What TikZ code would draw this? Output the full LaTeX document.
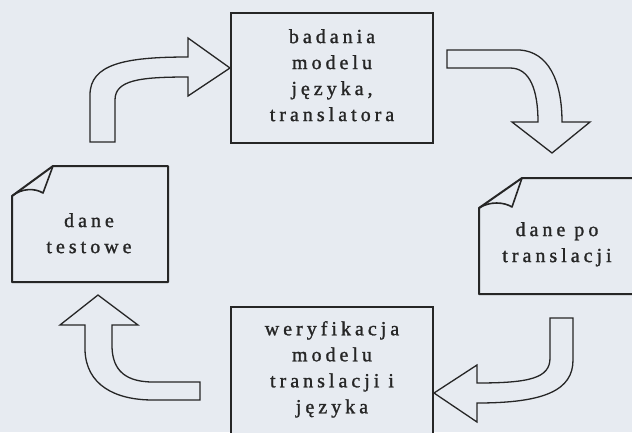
\documentclass[tikz,border=0pt]{standalone}
\usepackage{fontspec}
\setmainfont[LetterSpace=20, FakeBold=1.3]{Liberation Serif}
\definecolor{paper}{HTML}{E7EBF1}
\definecolor{ink}{HTML}{262626}
\tikzset{
  boxframe/.style={draw=ink, fill=paper, line width=2pt, inner sep=0pt},
  docframe/.style={draw=ink, fill=paper, line width=2pt, line join=round},
  flap/.style={draw=ink, line width=1.6pt, line join=round},
  blockarrow/.style={draw=ink, fill=paper, line width=1.3pt, line join=miter},
  caption/.style={text=ink, align=center, inner sep=0pt, anchor=north,
    font=\fontsize{20}{26}\selectfont}
}
\begin{document}
\begin{tikzpicture}[x=1pt, y=-1pt]
  \fill[paper] (0,0) rectangle (632,432);
  \useasboundingbox (0,0) rectangle (632,432);
  \clip (0,0) rectangle (632,432);

  % process boxes
  \node[boxframe, minimum width=202pt, minimum height=130pt] (badania) at (332,78) {};
  \node[boxframe, minimum width=202pt, minimum height=150pt] (weryf) at (332,382) {};

  % document shapes with folded corners
  \draw[docframe] (53,166) -- (168,166) -- (168,282) -- (12,282) -- (12,196) -- cycle;
  \draw[flap] (53,166) -- (43,193) .. controls (35,188) and (22,188) .. (12,196);
  \coordinate (testowe) at (90,224);

  \draw[docframe] (522,178) -- (645,178) -- (645,294) -- (479,294) -- (479,208) -- cycle;
  \draw[flap] (522,178) -- (512,207) .. controls (504,202) and (490,201) .. (479,208);
  \coordinate (potrans) at (560,236);

  % texts
  \node[caption] (tb) at (332,29) {badania\\modelu\\języka,\\translatora};
  \node[caption] (tw) at (332,321) {weryfikacja\\modelu\\translacji i\\języka};
  \node[caption] (tt) at (89,213) {dane\\testowe};
  \node[caption] (tp) at (557,222) {dane po\\translacji};

  % curved block arrows between the stages
  \draw[blockarrow] (90,142) -- (90,95) .. controls (90,64) and (125,57) .. (188,57)
    -- (188,38) -- (badania.west |- 0,68) -- (188,96) -- (188,77)
    .. controls (140,77) and (115,80) .. (115,100) -- (115,142) -- cycle;

  \draw[blockarrow] (447,50) -- (520,50) .. controls (548,52) and (562,80) .. (562,122)
    -- (590,122) -- (552,153) -- (512,122) -- (538,122)
    .. controls (538,90) and (530,68) .. (510,68) -- (447,68) -- cycle;

  \draw[blockarrow] (550,318) -- (573,318) -- (573,360)
    .. controls (573,390) and (545,403) .. (477,403) -- (477,422)
    -- (weryf.east |- 0,393) -- (477,365) -- (477,383)
    .. controls (530,383) and (550,378) .. (550,358) -- cycle;

  \draw[blockarrow] (200,400) -- (200,382) -- (153,382)
    .. controls (120,382) and (112,365) .. (112,345) -- (112,325) -- (138,325)
    -- (98,295) -- (60,325) -- (85,325) -- (85,350)
    .. controls (86,385) and (115,400) .. (153,400) -- cycle;
\end{tikzpicture}
\end{document}
